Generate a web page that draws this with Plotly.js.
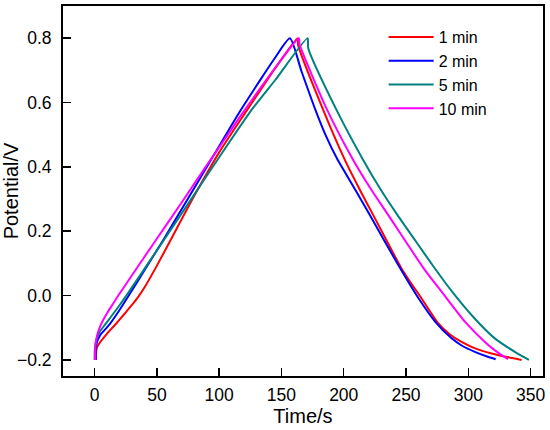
<!DOCTYPE html>
<html>
<head>
<meta charset="utf-8">
<script src="https://cdn.plot.ly/plotly-3.0.1.min.js"></script>
<style>html,body{margin:0;padding:0;background:#fff;}#chart{width:550px;height:430px;}</style>
</head>
<body>
<div id="chart"></div>
<script>
// Series names and colours
var seriesNames = ["1 min", "2 min", "5 min", "10 min"];
var seriesColors = ["#FF0000", "#0000FF", "#008080", "#FF00FF"];

// 1 min (red): time (s) and potential (V)
var t1 = [1, 1.1, 2, 5, 10, 15, 20, 25, 30, 35, 40, 50, 61, 80, 100, 122.5, 145, 163,
          163.4, 183.5, 200.9, 213, 223.7, 247.2, 262.5, 275.8, 285, 294.6, 306, 318.7, 330, 342.8];
var v1 = [-0.2, -0.18, -0.16, -0.142, -0.118, -0.097, -0.075, -0.052, -0.029, -0.004, 0.025, 0.093, 0.1727, 0.31, 0.445, 0.577, 0.707, 0.8,
          0.778, 0.577, 0.4215, 0.328, 0.25, 0.079, -0.009, -0.086, -0.12, -0.144, -0.165, -0.18, -0.19, -0.2];

// 2 min (blue)
var t2 = [0.8, 0.85, 1.3, 2.5, 5, 8.5, 12.3, 20, 27.4, 41, 55, 75, 95, 116.6, 135, 145, 156.8,
          166, 176.8, 186, 194.7, 209.4, 220.4, 244.5, 259.8, 273.2, 286.6, 295, 305.3, 314, 322];
var v2 = [-0.2, -0.175, -0.155, -0.138, -0.12, -0.105, -0.088, -0.045, 0, 0.085, 0.172, 0.302, 0.432, 0.572, 0.682, 0.74, 0.8,
          0.698, 0.582, 0.494, 0.425, 0.328, 0.254, 0.09, -0.007, -0.08, -0.133, -0.156, -0.175, -0.188, -0.198];

// 5 min (teal)
var t5 = [0, 0.1, 0.5, 1.5, 4, 8, 12.3, 20, 26, 40, 55.6, 75, 100, 126, 145, 171,
          171.5, 194.2, 215.6, 229.9, 243.2, 258, 272.5, 287, 305.3, 321.3, 337.4, 348.7];
var v5 = [-0.2, -0.175, -0.155, -0.135, -0.113, -0.092, -0.07, -0.03, 0.003, 0.083, 0.1727, 0.285, 0.43, 0.577, 0.67, 0.8,
          0.769, 0.577, 0.4215, 0.328, 0.25, 0.168, 0.088, 0.012, -0.072, -0.133, -0.175, -0.2];

// 10 min (magenta)
var t10 = [0.3, 0.35, 0.8, 1.8, 3.5, 6, 9.6, 14, 19, 30, 48.4, 70, 90, 102, 119.3, 145, 164,
           164.6, 186.7, 207.6, 222.3, 235.8, 265.2, 278.6, 297.3, 313.3, 323, 332];
var v10 = [-0.2, -0.175, -0.15, -0.127, -0.105, -0.082, -0.057, -0.03, 0, 0.063, 0.168, 0.29, 0.405, 0.472, 0.57, 0.708, 0.8,
           0.78, 0.577, 0.4215, 0.328, 0.25, 0.079, 0.012, -0.081, -0.144, -0.175, -0.198];

var xs = [t1, t2, t5, t10];
var ys = [v1, v2, v5, v10];

var FONT = "Liberation Sans, Arial, Helvetica, sans-serif";

var traces = xs.map(function (x, i) {
  return {
    x: x, y: ys[i], type: "scatter", mode: "lines", name: seriesNames[i],
    line: {color: seriesColors[i], width: 2, shape: "spline", smoothing: 0.6}
  };
});

var axisCommon = {
  showline: true, mirror: true, linecolor: "#000", linewidth: 2,
  ticks: "inside", ticklen: 8, tickwidth: 1.5, tickcolor: "#000",
  showgrid: false, zeroline: false,
  tickfont: {family: FONT, size: 17.5, color: "#000"}
};

var layout = {
  width: 550, height: 430,
  margin: {l: 63, r: 7, t: 6, b: 54},
  paper_bgcolor: "#fff", plot_bgcolor: "#fff",
  font: {family: FONT, color: "#000"},
  showlegend: true,
  legend: {
    x: 0.668, y: 0.962, xanchor: "left", yanchor: "top",
    font: {family: FONT, size: 16, color: "#000"},
    bgcolor: "rgba(0,0,0,0)", borderwidth: 0, itemwidth: 45,
    tracegroupgap: 0
  },
  xaxis: Object.assign({}, axisCommon, {
    range: [-25.4, 360], dtick: 50, tick0: 0, ticklabelstandoff: 2,
    title: {text: "Time/s", font: {family: FONT, size: 20, color: "#000"}, standoff: 0}
  }),
  yaxis: Object.assign({}, axisCommon, {
    range: [-0.25, 0.9], dtick: 0.2, tick0: 0, tickformat: ".1f", ticklabelstandoff: 6,
    title: {text: "Potential/V", font: {family: FONT, size: 20, color: "#000"}, standoff: 2}
  })
};

Plotly.newPlot("chart", traces, layout, {displayModeBar: false, staticPlot: true});
</script>
</body>
</html>
